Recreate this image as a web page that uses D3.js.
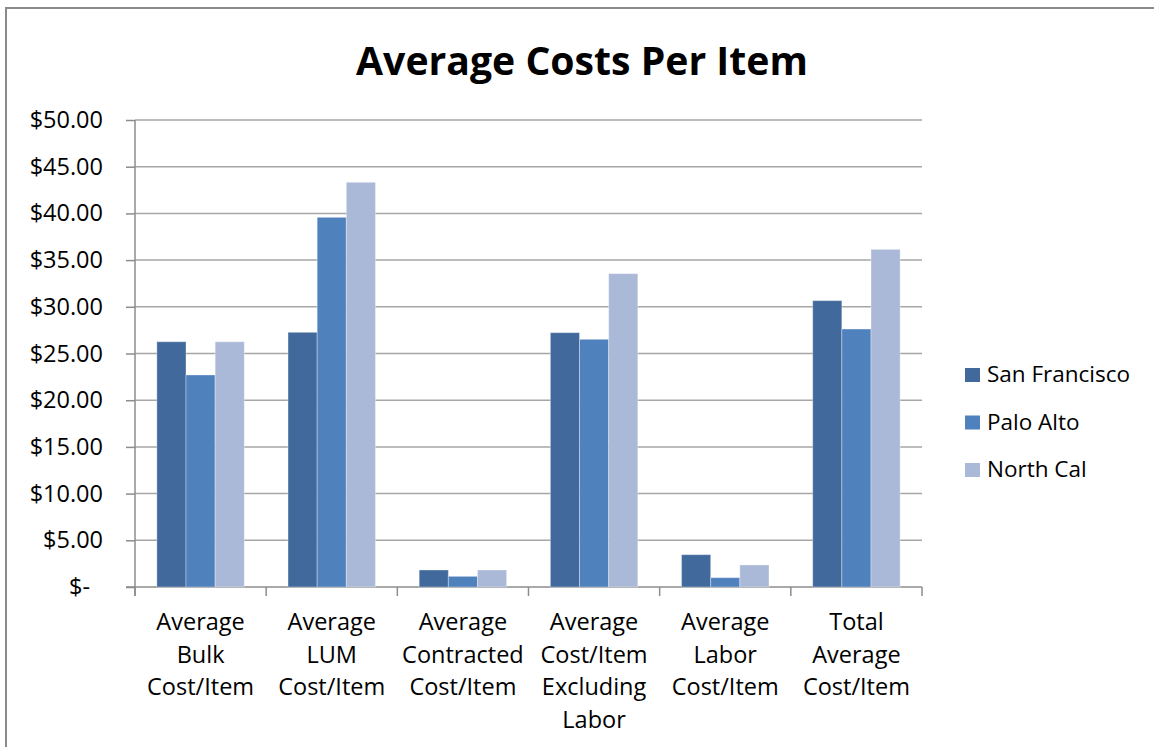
<!DOCTYPE html>
<html>
<head>
<meta charset="utf-8">
<script src="https://cdn.jsdelivr.net/npm/d3@7"></script>
<style>
  html, body { margin: 0; padding: 0; background: #ffffff; }
  svg { display: block; }
  text { font-family: "Open Sans", "Noto Sans", sans-serif; fill: #000; }
</style>
</head>
<body>
<svg id="chart" width="1154" height="747"></svg>
<script>
// ---- data ----
const titleText = "Average Costs Per Item";
const categories = [
  "Average Bulk Cost/Item",
  "Average LUM Cost/Item",
  "Average Contracted Cost/Item",
  "Average Cost/Item Excluding Labor",
  "Average Labor Cost/Item",
  "Total Average Cost/Item"
];
const categoryLines = [
  ["Average", "Bulk", "Cost/Item"],
  ["Average", "LUM", "Cost/Item"],
  ["Average", "Contracted", "Cost/Item"],
  ["Average", "Cost/Item", "Excluding", "Labor"],
  ["Average", "Labor", "Cost/Item"],
  ["Total", "Average", "Cost/Item"]
];
const seriesNames = ["San Francisco", "Palo Alto", "North Cal"];
const sanFrancisco = [26.26, 27.27, 1.82, 27.23, 3.46, 30.66];
const paloAlto     = [22.70, 39.58, 1.14, 26.52, 1.00, 27.62];
const northCal     = [26.26, 43.33, 1.82, 33.55, 2.36, 36.15];
const yTicks = [0, 5, 10, 15, 20, 25, 30, 35, 40, 45, 50];
const yTickLabels = ["$-", "$5.00", "$10.00", "$15.00", "$20.00", "$25.00", "$30.00", "$35.00", "$40.00", "$45.00", "$50.00"];
const colors = ["#41699B", "#4F81BD", "#AAB9D7"];

const seriesValues = [sanFrancisco, paloAlto, northCal];

// ---- layout ----
const svg = d3.select("#chart");
const plot = { left: 135, right: 922, top: 120, bottom: 587 };

// chart frame
svg.append("rect")
  .attr("x", 6).attr("y", 8)
  .attr("width", 1160).attr("height", 760)
  .attr("fill", "#fff")
  .attr("stroke", "#8a8a8a")
  .attr("stroke-width", 2);

const x0 = d3.scaleBand()
  .domain(categories)
  .range([plot.left, plot.right])
  .paddingInner(1/3)
  .paddingOuter(1/6);

const x1 = d3.scaleBand()
  .domain(seriesNames)
  .range([0, x0.bandwidth()])
  .padding(0);

const y = d3.scaleLinear()
  .domain([0, 50])
  .range([plot.bottom, plot.top]);

// gridlines
svg.append("g")
  .selectAll("line")
  .data(yTicks.filter(d => d > 0))
  .join("line")
  .attr("x1", plot.left).attr("x2", plot.right)
  .attr("y1", d => y(d)).attr("y2", d => y(d))
  .attr("stroke", "#a6a6a6")
  .attr("stroke-width", 1.5);

// y axis
const yAxis = d3.axisLeft(y)
  .tickValues(yTicks)
  .tickSize(9)
  .tickPadding(23)
  .tickFormat((d, i) => yTickLabels[i]);

const gy = svg.append("g")
  .attr("transform", `translate(${plot.left},0)`)
  .call(yAxis);
gy.select(".domain")
  .attr("d", `M0,${plot.top}V${plot.bottom + 9}`)
  .attr("stroke", "#8c8c8c").attr("stroke-width", 1.5);
gy.selectAll(".tick line").attr("stroke", "#8c8c8c").attr("stroke-width", 1.5);
gy.selectAll(".tick text")
  .style("font-family", "'Open Sans', sans-serif")
  .style("font-size", "23.5px")
  .attr("fill", "#000")
  .attr("dx", (d, i) => yTickLabels[i] === "$-" ? -13 : 0);

// x axis
const gx = svg.append("g")
  .attr("transform", `translate(0,${plot.bottom})`);
gx.append("line")
  .attr("x1", plot.left - 9).attr("x2", plot.right)
  .attr("y1", 0).attr("y2", 0)
  .attr("stroke", "#8c8c8c").attr("stroke-width", 1.5);
const boundaries = categories.map(c => x0(c) - x0.step() * x0.paddingInner() / 2)
  .concat([plot.right]);
gx.selectAll("line.xt")
  .data(boundaries)
  .join("line")
  .attr("class", "xt")
  .attr("x1", d => d).attr("x2", d => d)
  .attr("y1", 0).attr("y2", 9)
  .attr("stroke", "#8c8c8c").attr("stroke-width", 1.5);

// category labels
const lab = svg.append("g");
categories.forEach((c, i) => {
  const cx = x0(c) + x0.bandwidth() / 2;
  const t = lab.append("text")
    .attr("text-anchor", "middle")
    .style("font-size", "23.5px");
  categoryLines[i].forEach((ln, j) => {
    t.append("tspan")
      .attr("x", cx)
      .attr("y", 630 + j * 32.5)
      .text(ln);
  });
});

// bars
const groups = svg.append("g")
  .selectAll("g")
  .data(categories)
  .join("g")
  .attr("transform", c => `translate(${x0(c)},0)`);

groups.selectAll("rect")
  .data((c, i) => seriesNames.map((s, k) => ({ s, k, v: seriesValues[k][i] })))
  .join("rect")
  .attr("x", d => x1(d.s))
  .attr("width", x1.bandwidth())
  .attr("y", d => y(d.v))
  .attr("height", d => y(0) - y(d.v))
  .attr("fill", d => colors[d.k])
  .attr("stroke", "#ffffff")
  .attr("stroke-opacity", 0.35)
  .attr("stroke-width", 1);

// title
const title = svg.append("text")
  .attr("x", 582)
  .attr("y", 75)
  .attr("text-anchor", "middle")
  .style("font-weight", "bold")
  .style("font-size", "40px")
  .text(titleText);
// fit title width to the reference width
const tw = title.node().getComputedTextLength();
title.style("font-size", (40 * 452 / tw).toFixed(2) + "px");

// legend
const legend = svg.append("g");
seriesNames.forEach((s, k) => {
  const ly = 382 + k * 47.5;
  legend.append("rect")
    .attr("x", 965).attr("y", ly - 14)
    .attr("width", 15).attr("height", 14)
    .attr("fill", colors[k]);
  legend.append("text")
    .attr("x", 987).attr("y", ly)
    .style("font-size", "22.5px")
    .text(s);
});
</script>
</body>
</html>
